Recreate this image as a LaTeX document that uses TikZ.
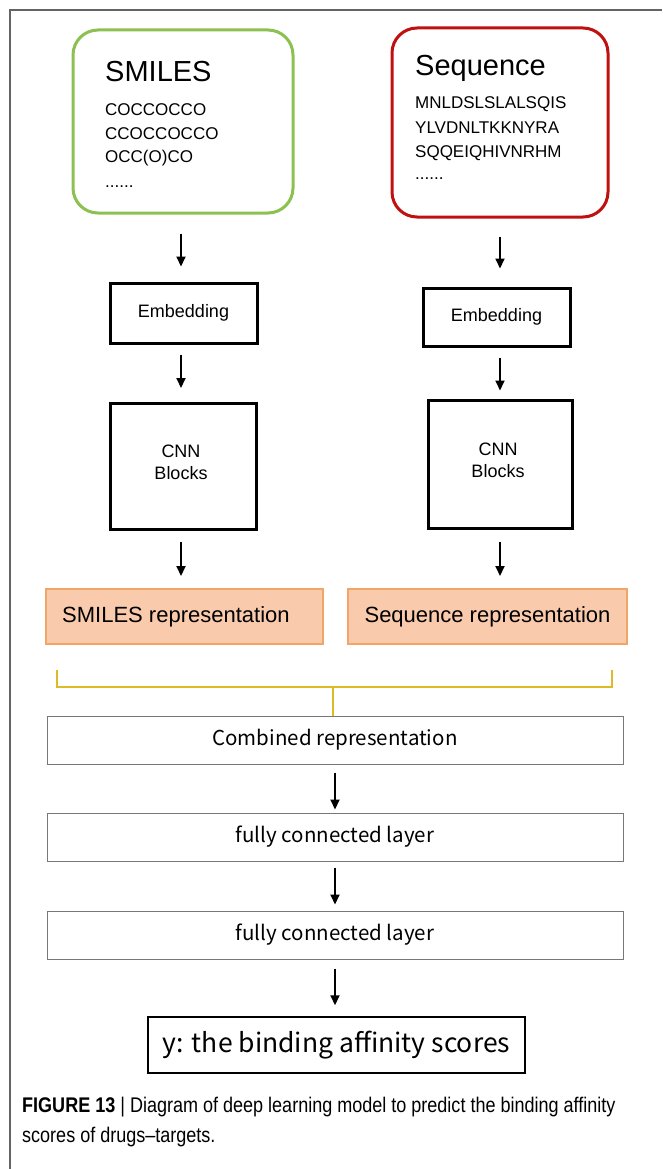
\documentclass[tikz,border=0pt]{standalone}
\usepackage{fontspec}
\setmainfont{Liberation Sans}
\newfontfamily\lightsans{Noto Sans CJK SC}
\newfontfamily\capfont{Liberation Sans}[FakeStretch=0.85]
\usetikzlibrary{arrows.meta}

\definecolor{smgreen}{RGB}{140,193,82}
\definecolor{seqred}{RGB}{192,16,16}
\definecolor{repfill}{RGB}{249,202,172}
\definecolor{repdraw}{RGB}{240,165,105}
\definecolor{brackc}{RGB}{222,186,40}
\definecolor{framec}{RGB}{100,100,100}
\definecolor{layerc}{RGB}{120,120,120}

\newcommand{\fs}[1]{\fontsize{#1}{#1}\selectfont}

\begin{document}
\begin{tikzpicture}[x=1pt,y=-1pt,
  inputbox/.style={draw, line width=3pt, rounded corners=25pt, inner sep=0pt},
  blockbox/.style={draw=black, line width=3pt, inner sep=0pt, align=center,
                   font=\fontsize{18}{22}\selectfont},
  repbox/.style={draw=repdraw, fill=repfill, line width=2pt, inner sep=0pt,
                 minimum height=55pt},
  layerbox/.style={draw=layerc, line width=1pt, inner sep=0pt,
                   minimum width=576pt, minimum height=48pt,
                   font=\lightsans\fs{20.5}},
  arr/.style={line width=2pt, -{Triangle[length=10pt,width=9pt]}},
  bracket/.style={draw=brackc, line width=1.6pt}
]
\useasboundingbox (0,0) rectangle (662,1169);
\fill[white] (0,0) rectangle (662,1169);

% page frame
\draw[framec, line width=1.2pt] (10,1169) -- (10,10) -- (662,10);

% input boxes
\node[inputbox, draw=smgreen, minimum width=220pt, minimum height=183pt] (smi) at (183,121.5) {};
\node[anchor=base west, inner sep=0pt, font=\fs{29}] (smit) at (105,82) {SMILES};
\node[anchor=base west, inner sep=0pt, font=\fs{17}] (smi1) at (105,116) {COCCOCCO};
\node[anchor=base west, inner sep=0pt, font=\fs{17}] (smi2) at (105,140) {CCOCCOCCO};
\node[anchor=base west, inner sep=0pt, font=\fs{17}] (smi3) at (105,163) {OCC(O)CO};
\node[anchor=base west, inner sep=0pt, font=\fs{17}] (smi4) at (105,187) {......};

\node[inputbox, draw=seqred, minimum width=216pt, minimum height=189pt] (seq) at (500,122.5) {};
\node[anchor=base west, inner sep=0pt, font=\fs{29}] (seqt) at (415,76) {Sequence};
\node[anchor=base west, inner sep=0pt, font=\fs{17}] (seq1) at (415,109) {MNLDSLSLALSQIS};
\node[anchor=base west, inner sep=0pt, font=\fs{17}] (seq2) at (415,134) {YLVDNLTKKNYRA};
\node[anchor=base west, inner sep=0pt, font=\fs{17}] (seq3) at (415,158) {SQQEIQHIVNRHM};
\node[anchor=base west, inner sep=0pt, font=\fs{17}] (seq4) at (415,180) {......};

% embedding and CNN blocks
\node[blockbox, minimum width=147pt, minimum height=60pt] (emb1) at (183.5,313) {Embedding};
\node[blockbox, minimum width=147pt, minimum height=58pt] (emb2) at (496.5,317) {Embedding};
\node[blockbox, minimum width=146pt, minimum height=126pt] (cnn1) at (183,466.5) {};
\node[blockbox, minimum width=144pt, minimum height=128pt] (cnn2) at (500,464) {};
\node[align=center, inner sep=0pt, font=\fontsize{18}{22}\selectfont] (cnn1t) at (181,462) {CNN\\Blocks};
\node[align=center, inner sep=0pt, font=\fontsize{18}{22}\selectfont] (cnn2t) at (498,460) {CNN\\Blocks};

% representations
\node[repbox, minimum width=277pt] (rep1) at (184.5,616.5) {};
\node[anchor=west, inner sep=0pt, font=\fs{22}] (rep1t) at (62,616.5) {SMILES representation};
\node[repbox, minimum width=279pt, font=\fs{22}] (rep2) at (487.5,616.5) {Sequence representation};

% merge bracket
\coordinate (brl) at (57,670);
\coordinate (brr) at (612,670);
\coordinate (brmid) at (333,687);
\draw[bracket] (brl) -- (57,687) -- (612,687) -- (brr);

% combined part
\node[layerbox] (comb) at (335,740) {Combined representation};
\node[layerbox] (fc1) at (335,837) {fully connected layer};
\node[layerbox] (fc2) at (335,935) {fully connected layer};
\node[draw=black, line width=1.5pt, inner sep=0pt, minimum width=377pt,
      minimum height=56pt, font=\lightsans\fs{26.5}] (out) at (336.5,1045)
      {y: the binding affinity scores};

\draw[bracket] (brmid) -- (brmid |- comb.north);

% arrows
\draw[arr, shorten <=19pt, shorten >=15pt] (smi.south -| 181,0) -- (emb1.north -| 181,0);
\draw[arr, shorten <=10pt, shorten >=14pt] (emb1.south -| 181,0) -- (cnn1.north -| 181,0);
\draw[arr, shorten <=11pt, shorten >=12pt] (cnn1.south -| 181,0) -- (rep1.north -| 181,0);
\draw[arr, shorten <=18pt, shorten >=18pt] (seq.south -| 500,0) -- (emb2.north -| 500,0);
\draw[arr, shorten <=10pt, shorten >=8pt] (emb2.south -| 500,0) -- (cnn2.north -| 500,0);
\draw[arr, shorten <=12pt, shorten >=12pt] (cnn2.south -| 500,0) -- (rep2.north -| 500,0);
\draw[arr, shorten <=8pt, shorten >=3pt] (comb.south -| 335,0) -- (fc1.north -| 335,0);
\draw[arr, shorten <=6pt, shorten >=6pt] (fc1.south -| 335,0) -- (fc2.north -| 335,0);
\draw[arr, shorten <=9pt, shorten >=11pt] (fc2.south -| 335,0) -- (out.north -| 335,0);

% caption
\node[anchor=base west, inner sep=0pt, font=\capfont\fs{21.2}] (cap1) at (22,1112)
  {\textbf{FIGURE 13} | Diagram of deep learning model to predict the binding affinity};
\node[anchor=base west, inner sep=0pt, font=\capfont\fs{21.2}] (cap2) at (22,1142)
  {scores of drugs–targets.};
\end{tikzpicture}
\end{document}
